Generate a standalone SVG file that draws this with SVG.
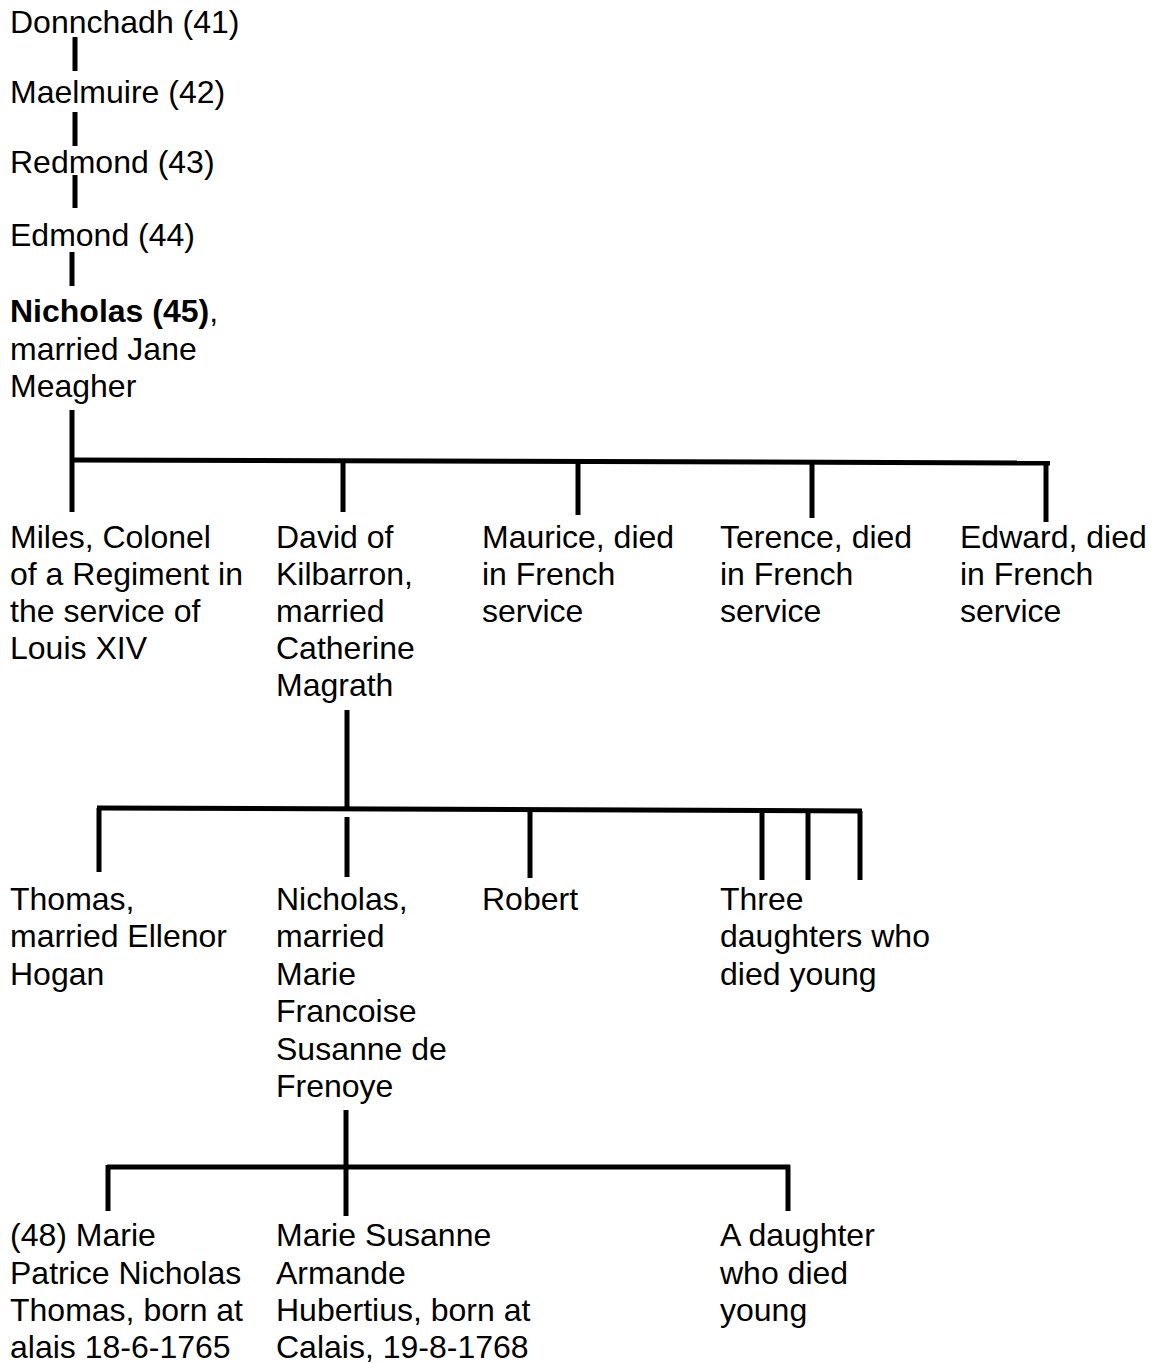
<svg xmlns="http://www.w3.org/2000/svg" width="1156" height="1363" viewBox="0 0 1156 1363">
<style>
text{font-family:"Liberation Sans",Arial,sans-serif;font-size:32px;fill:#000}
.b{font-weight:bold}
.c line{stroke:#000;stroke-width:5}
</style>
<rect width="1156" height="1363" fill="#fff"/>
<g class="c" id="connectors">
<line x1="75" y1="37" x2="75" y2="71"/>
<line x1="75" y1="112" x2="75" y2="146"/>
<line x1="75" y1="175" x2="75" y2="208"/>
<line x1="72" y1="252" x2="72" y2="286"/>
<line x1="72" y1="410" x2="72" y2="460"/>
<line x1="72" y1="460" x2="1050" y2="463"/>
<line x1="72" y1="460" x2="72" y2="512"/>
<line x1="343" y1="462" x2="343" y2="512"/>
<line x1="578" y1="463" x2="578" y2="515"/>
<line x1="812" y1="463" x2="812" y2="518"/>
<line x1="1046" y1="463" x2="1046" y2="522"/>
<line x1="347" y1="710" x2="347" y2="808"/>
<line x1="97" y1="808" x2="862" y2="811"/>
<line x1="99" y1="808" x2="99" y2="872"/>
<line x1="347" y1="817" x2="347" y2="877"/>
<line x1="530" y1="810" x2="530" y2="878"/>
<line x1="762" y1="811" x2="762" y2="880"/>
<line x1="808" y1="811" x2="808" y2="880"/>
<line x1="860" y1="811" x2="860" y2="880"/>
<line x1="346" y1="1110" x2="346" y2="1216"/>
<line x1="107" y1="1167" x2="790" y2="1167"/>
<line x1="108" y1="1165" x2="108" y2="1211"/>
<line x1="788" y1="1165" x2="788" y2="1211"/>
</g>
<g id="n41"><text x="10" y="33">Donnchadh (41)</text></g>
<g id="n42"><text x="10" y="103">Maelmuire (42)</text></g>
<g id="n43"><text x="10" y="173">Redmond (43)</text></g>
<g id="n44"><text x="10" y="246">Edmond (44)</text></g>
<g id="n45"><text x="10" y="322"><tspan class="b">Nicholas (45)</tspan>,</text><text x="10" y="360">married Jane</text><text x="10" y="397">Meagher</text></g>
<g id="miles"><text x="10" y="548">Miles, Colonel</text><text x="10" y="585">of a Regiment in</text><text x="10" y="622">the service of</text><text x="10" y="659">Louis XIV</text></g>
<g id="david"><text x="276" y="548">David of</text><text x="276" y="585">Kilbarron,</text><text x="276" y="622">married</text><text x="276" y="659">Catherine</text><text x="276" y="696">Magrath</text></g>
<g id="maurice"><text x="482" y="548">Maurice, died</text><text x="482" y="585">in French</text><text x="482" y="622">service</text></g>
<g id="terence"><text x="720" y="548">Terence, died</text><text x="720" y="585">in French</text><text x="720" y="622">service</text></g>
<g id="edward"><text x="960" y="548">Edward, died</text><text x="960" y="585">in French</text><text x="960" y="622">service</text></g>
<g id="thomas"><text x="10" y="910">Thomas,</text><text x="10" y="947">married Ellenor</text><text x="10" y="985">Hogan</text></g>
<g id="nicholas"><text x="276" y="910">Nicholas,</text><text x="276" y="947">married</text><text x="276" y="985">Marie</text><text x="276" y="1022">Francoise</text><text x="276" y="1060">Susanne de</text><text x="276" y="1097">Frenoye</text></g>
<g id="robert"><text x="482" y="910">Robert</text></g>
<g id="three"><text x="720" y="910">Three</text><text x="720" y="947">daughters who</text><text x="720" y="985">died young</text></g>
<g id="m48"><text x="10" y="1246">(48) Marie</text><text x="10" y="1284">Patrice Nicholas</text><text x="10" y="1321">Thomas, born at</text><text x="10" y="1358">alais 18-6-1765</text></g>
<g id="msa"><text x="276" y="1246">Marie Susanne</text><text x="276" y="1284">Armande</text><text x="276" y="1321">Hubertius, born at</text><text x="276" y="1358">Calais, 19-8-1768</text></g>
<g id="adaughter"><text x="720" y="1246">A daughter</text><text x="720" y="1284">who died</text><text x="720" y="1321">young</text></g>
</svg>
